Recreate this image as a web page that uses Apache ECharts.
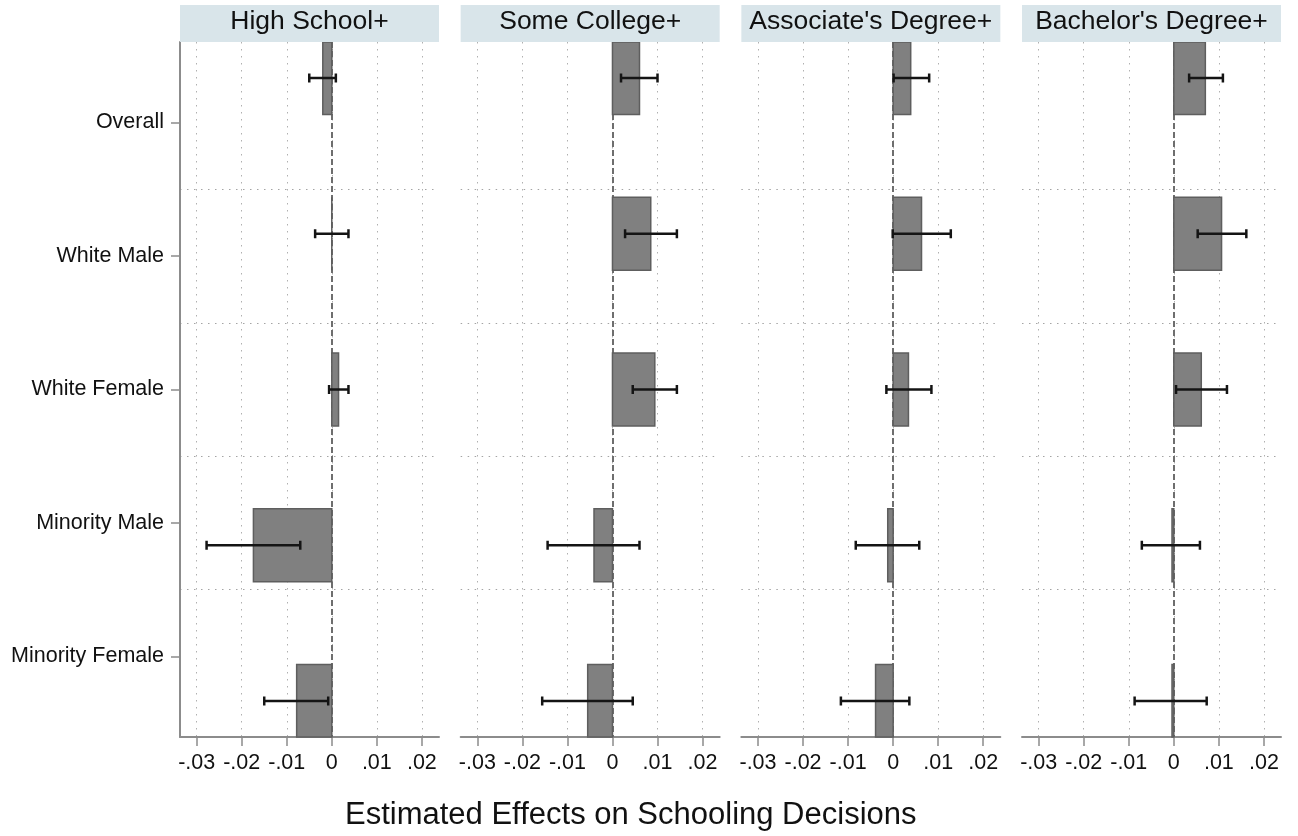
<!DOCTYPE html>
<html>
<head>
<meta charset="utf-8">
<script src="https://cdn.jsdelivr.net/npm/echarts@6/dist/echarts.min.js"></script>
<style>
html,body{margin:0;padding:0;background:#fff;}
#chart{width:1298px;height:836px;}
</style>
</head>
<body>
<div id="chart"></div>
<script>
// ---------------- data ----------------
const categories = ['Overall', 'White Male', 'White Female', 'Minority Male', 'Minority Female'];
const panelTitles = ['High School+', 'Some College+', "Associate's Degree+", "Bachelor's Degree+"];
const xTickValues = [-0.03, -0.02, -0.01, 0, 0.01, 0.02];
const xTickLabels = ['-.03', '-.02', '-.01', '0', '.01', '.02'];
const xTitle = 'Estimated Effects on Schooling Decisions';

// point estimates and 95% CI bounds (order follows categories)
const estHS = [-0.0020, 0.0000, 0.0015, -0.0174, -0.0078];
const loHS  = [-0.0050, -0.0037, -0.0006, -0.0278, -0.0150];
const hiHS  = [0.0009, 0.0037, 0.0037, -0.0070, -0.0008];

const estSC = [0.0060, 0.0085, 0.0094, -0.0041, -0.0055];
const loSC  = [0.0019, 0.0028, 0.0045, -0.0144, -0.0156];
const hiSC  = [0.0100, 0.0143, 0.0143, 0.0060, 0.0045];

const estAD = [0.0039, 0.0063, 0.0034, -0.0012, -0.0039];
const loAD  = [0.0001, -0.0001, -0.0015, -0.0083, -0.0116];
const hiAD  = [0.0080, 0.0128, 0.0085, 0.0058, 0.0036];

const estBA = [0.0070, 0.0106, 0.0061, -0.0004, -0.0004];
const loBA  = [0.0034, 0.0053, 0.0005, -0.0071, -0.0087];
const hiBA  = [0.0109, 0.0161, 0.0118, 0.0058, 0.0073];

const panelData = [
  [estHS, loHS, hiHS],
  [estSC, loSC, hiSC],
  [estAD, loAD, hiAD],
  [estBA, loBA, hiBA]
];

// ---------------- layout / style ----------------
const FONT = '"Liberation Sans", Arial, Helvetica, sans-serif';
const GRID_LEFT0 = 180, GRID_STEP = 280.67, GRID_W = 259, GRID_TOP = 42, GRID_H = 695;
const X_MIN = -0.0337, X_MAX = 0.0238;
const Y_MIN = -0.603, Y_MAX = 4.603;
const BAR_SPREAD = 7 / 6;   // bars are spread slightly wider than label slots
const BAR_HALF = 0.2734;    // half bar thickness in y-axis units
const CAP = 4.5;            // error-bar cap half-length (px)
const AXIS_COLOR = '#8c8c8c';
const n = categories.length;
const mid = (n - 1) / 2;
const labelPositions = categories.map((c, k) => k);
const boundaryPositions = categories.slice(1).map((c, k) => k + 0.5);

function fmtX(v) {
  let best = 0, bd = Infinity;
  xTickValues.forEach((t, i) => { const d = Math.abs(t - v); if (d < bd) { bd = d; best = i; } });
  return xTickLabels[best];
}
function fmtY(v) {
  return categories[Math.round(v)] || '';
}

function renderItem(params, api) {
  const cs = params.coordSys;
  const v = api.value(0), lo = api.value(1), hi = api.value(2), yc = api.value(3);
  const pA = api.coord([0, yc - BAR_HALF]);
  const pB = api.coord([v, yc + BAR_HALF]);
  const x0 = Math.min(pA[0], pB[0]), x1 = Math.max(pA[0], pB[0]);
  const y0 = Math.max(Math.min(pA[1], pB[1]), cs.y);
  const y1 = Math.min(Math.max(pA[1], pB[1]), cs.y + cs.height);
  const e0 = api.coord([lo, yc]), e1 = api.coord([hi, yc]);
  const eStyle = { stroke: '#141414', lineWidth: 2.5, fill: null };
  return {
    type: 'group',
    children: [
      { type: 'rect', shape: { x: x0, y: y0, width: x1 - x0, height: y1 - y0 },
        style: { fill: '#808080', stroke: '#5e5e5e', lineWidth: 1.5 } },
      { type: 'line', shape: { x1: e0[0], y1: e0[1], x2: e1[0], y2: e1[1] }, style: eStyle },
      { type: 'line', shape: { x1: e0[0], y1: e0[1] - CAP, x2: e0[0], y2: e0[1] + CAP }, style: eStyle },
      { type: 'line', shape: { x1: e1[0], y1: e1[1] - CAP, x2: e1[0], y2: e1[1] + CAP }, style: eStyle }
    ]
  };
}

const grids = [], xAxes = [], yAxes = [], series = [], graphics = [];
panelTitles.forEach((title, i) => {
  const left = GRID_LEFT0 + i * GRID_STEP;
  grids.push({ left: left, top: GRID_TOP, width: GRID_W, height: GRID_H, containLabel: false });
  xAxes.push({
    type: 'value', gridIndex: i, min: X_MIN, max: X_MAX,
    axisLine: { show: true, onZero: false, lineStyle: { color: AXIS_COLOR, width: 2 } },
    axisTick: { show: true, length: 9, customValues: xTickValues, lineStyle: { color: AXIS_COLOR, width: 1.5 } },
    axisLabel: { show: true, customValues: xTickValues, formatter: fmtX, fontSize: 21.5, fontFamily: FONT, color: '#111', margin: 15 },
    splitLine: { show: true, lineStyle: { type: [1.5, 5.5], color: '#b0b0b0', width: 1 } }
  });
  yAxes.push({
    type: 'value', gridIndex: i, inverse: true, min: Y_MIN, max: Y_MAX, position: 'left',
    axisLine: { show: i === 0, onZero: false, lineStyle: { color: AXIS_COLOR, width: 2 } },
    axisTick: { show: i === 0, length: 9, customValues: labelPositions, lineStyle: { color: AXIS_COLOR, width: 1.5 } },
    axisLabel: { show: i === 0, customValues: labelPositions, formatter: fmtY, fontSize: 21.5, fontFamily: FONT, color: '#111', margin: 16 },
    splitLine: { show: false }
  });
  yAxes.push({
    type: 'value', gridIndex: i, inverse: true, min: Y_MIN, max: Y_MAX, position: 'left',
    axisLine: { show: false, onZero: false },
    axisTick: { show: false, customValues: boundaryPositions },
    axisLabel: { show: false },
    splitLine: { show: true, lineStyle: { type: [1.5, 5.5], color: '#a4a4a4', width: 1 } }
  });
  const [est, lo, hi] = panelData[i];
  series.push({
    type: 'line', xAxisIndex: i, yAxisIndex: 2 * i, data: [], z: 1, silent: true,
    markLine: {
      silent: true, z: 1, symbol: ['none', 'none'], label: { show: false },
      lineStyle: { color: '#6e6e6e', width: 2, type: [6, 3] },
      emphasis: { disabled: true },
      data: [{ xAxis: 0 }]
    }
  });
  series.push({
    type: 'custom', xAxisIndex: i, yAxisIndex: 2 * i, z: 3, silent: true,
    renderItem: renderItem,
    encode: { x: [0, 1, 2], y: 3 },
    data: est.map((v, k) => [v, lo[k], hi[k], mid + (k - mid) * BAR_SPREAD])
  });
  graphics.push({
    type: 'rect', silent: true, z: 10,
    shape: { x: left, y: 5, width: GRID_W, height: 37 },
    style: { fill: '#d9e5ea' }
  });
  graphics.push({
    type: 'text', silent: true, z: 11,
    x: left + GRID_W / 2, y: 22,
    style: { text: title, fontSize: 26.5, fontFamily: FONT, fill: '#111', align: 'center', verticalAlign: 'middle' }
  });
});
graphics.push({
  type: 'text', silent: true,
  x: 345, y: 815,
  style: { text: xTitle, fontSize: 31, fontFamily: FONT, fill: '#111', align: 'left', verticalAlign: 'middle' }
});

const chart = echarts.init(document.getElementById('chart'), null, { renderer: 'canvas' });
chart.setOption({
  animation: false,
  backgroundColor: '#ffffff',
  grid: grids,
  xAxis: xAxes,
  yAxis: yAxes,
  series: series,
  graphic: graphics
});
</script>
</body>
</html>
